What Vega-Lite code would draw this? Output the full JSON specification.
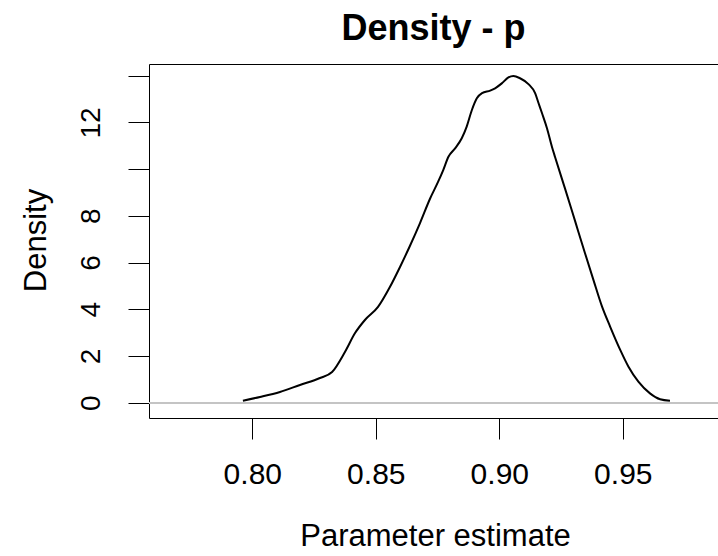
{
  "$schema": "https://vega.github.io/schema/vega-lite/v6.json",
  "autosize": {"type": "none"},
  "width": 569,
  "height": 354,
  "padding": {"left": 149, "top": 64, "right": 0, "bottom": 138},
  "background": "white",
  "config": {
    "font": "Liberation Sans",
    "view": {"stroke": "black", "strokeWidth": 1}
  },
  "title": {
    "text": "Density - p",
    "font": "Liberation Sans",
    "fontSize": 36,
    "fontWeight": "bold",
    "color": "black",
    "anchor": "middle",
    "baseline": "alphabetic",
    "offset": 26,
    "dy": 38
  },
  "data": {
    "values": [
      {"x": 0.7962, "y": 0.086},
      {"x": 0.8031, "y": 0.244},
      {"x": 0.8112, "y": 0.458},
      {"x": 0.8193, "y": 0.758},
      {"x": 0.8274, "y": 1.057},
      {"x": 0.8323, "y": 1.314},
      {"x": 0.8375, "y": 2.17},
      {"x": 0.8416, "y": 2.98},
      {"x": 0.8456, "y": 3.54},
      {"x": 0.8509, "y": 4.10},
      {"x": 0.8557, "y": 4.95},
      {"x": 0.8598, "y": 5.81},
      {"x": 0.8638, "y": 6.71},
      {"x": 0.8679, "y": 7.69},
      {"x": 0.8719, "y": 8.72},
      {"x": 0.8752, "y": 9.45},
      {"x": 0.8773, "y": 9.96},
      {"x": 0.8794, "y": 10.53},
      {"x": 0.8821, "y": 10.89},
      {"x": 0.8848, "y": 11.32},
      {"x": 0.8868, "y": 11.82},
      {"x": 0.8889, "y": 12.53},
      {"x": 0.8909, "y": 13.03},
      {"x": 0.8930, "y": 13.25},
      {"x": 0.8963, "y": 13.36},
      {"x": 0.8983, "y": 13.46},
      {"x": 0.9010, "y": 13.67},
      {"x": 0.9037, "y": 13.93},
      {"x": 0.9057, "y": 13.99},
      {"x": 0.9084, "y": 13.89},
      {"x": 0.9118, "y": 13.64},
      {"x": 0.9145, "y": 13.25},
      {"x": 0.9159, "y": 12.82},
      {"x": 0.9173, "y": 12.39},
      {"x": 0.9193, "y": 11.75},
      {"x": 0.9213, "y": 10.96},
      {"x": 0.9226, "y": 10.51},
      {"x": 0.9260, "y": 9.37},
      {"x": 0.9294, "y": 8.22},
      {"x": 0.9320, "y": 7.32},
      {"x": 0.9347, "y": 6.40},
      {"x": 0.9381, "y": 5.26},
      {"x": 0.9416, "y": 4.11},
      {"x": 0.9449, "y": 3.25},
      {"x": 0.9490, "y": 2.25},
      {"x": 0.9523, "y": 1.54},
      {"x": 0.9563, "y": 0.90},
      {"x": 0.9610, "y": 0.40},
      {"x": 0.9651, "y": 0.15},
      {"x": 0.9691, "y": 0.086}
    ]
  },
  "encoding": {
    "x": {
      "field": "x",
      "type": "quantitative",
      "scale": {"domain": [0.75818, 0.98854], "nice": false, "zero": false},
      "axis": {
        "values": [0.8, 0.85, 0.9, 0.95],
        "format": ".2f",
        "grid": false,
        "domain": false,
        "tickSize": 21,
        "tickColor": "black",
        "tickWidth": 1,
        "labelFont": "Liberation Sans",
        "labelFontSize": 30,
        "labelColor": "black",
        "labelPadding": 20,
        "labelFlush": false,
        "labelOverlap": false,
        "title": "Parameter estimate",
        "titleFont": "Liberation Sans",
        "titleFontSize": 31,
        "titleFontWeight": "normal",
        "titleColor": "black",
        "titleBaseline": "alphabetic",
        "titleAlign": "center",
        "titleX": 286,
        "titleY": 127
      }
    },
    "y": {
      "field": "y",
      "type": "quantitative",
      "scale": {"domain": [-0.655, 14.5], "nice": false, "zero": false},
      "axis": {
        "values": [0, 2, 4, 6, 8, 10, 12, 14],
        "labelExpr": "datum.value == 10 || datum.value == 14 ? '' : datum.label",
        "grid": false,
        "domain": false,
        "tickSize": 21,
        "tickColor": "black",
        "tickWidth": 1,
        "labelFont": "Liberation Sans",
        "labelFontSize": 28,
        "labelColor": "black",
        "labelAngle": -90,
        "labelAlign": "center",
        "labelBaseline": "alphabetic",
        "labelPadding": 29,
        "labelFlush": false,
        "labelOverlap": false,
        "title": "Density",
        "titleFont": "Liberation Sans",
        "titleFontSize": 31,
        "titleFontWeight": "normal",
        "titleColor": "black",
        "titleAngle": 270,
        "titleBaseline": "alphabetic",
        "titleAlign": "center",
        "titleX": -104,
        "titleY": 176
      }
    }
  },
  "layer": [
    {
      "mark": {"type": "rule", "color": "#c4c4c4", "strokeWidth": 1.5},
      "encoding": {"y": {"datum": 0}, "x": null}
    },
    {
      "mark": {"type": "line", "color": "black", "strokeWidth": 2, "interpolate": "monotone"}
    }
  ]
}
